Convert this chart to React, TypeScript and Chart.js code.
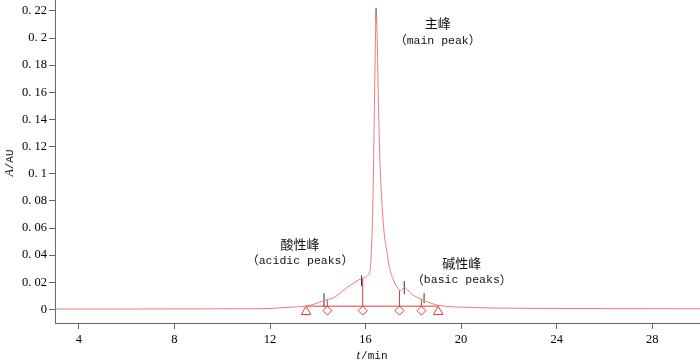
import { useEffect, useRef } from "react";
import { Chart, registerables } from "chart.js";

Chart.register(...registerables);

// Chromatogram trace (retention time in min, absorbance in AU)
const curveTimes = [
  3, 6, 9, 11, 12, 12.42, 13.05, 13.5, 13.87, 14.2, 14.37, 14.7, 15.21, 15.56, 15.84, 15.98, 16.09,
  16.16, 16.22, 16.28, 16.33, 16.38, 16.42, 16.45, 16.48, 16.53, 16.6, 16.68, 16.77, 16.88, 17.0,
  17.17, 17.38, 17.46, 17.55, 17.63, 17.75, 17.95, 18.15, 18.4, 18.5, 18.75, 19.0, 19.3, 19.7, 20.5,
  21.5, 23, 26, 30,
];
const curveValues = [
  0.0003, 0.0003, 0.0004, 0.0005, 0.0007, 0.0012, 0.0018, 0.0025, 0.004, 0.0062, 0.007, 0.009, 0.016,
  0.02, 0.0229, 0.0234, 0.025, 0.0268, 0.035, 0.06, 0.1, 0.16, 0.205, 0.218, 0.205, 0.16, 0.11, 0.08,
  0.058, 0.044, 0.031, 0.0216, 0.0148, 0.0137, 0.015, 0.0162, 0.0145, 0.011, 0.009, 0.007, 0.0062,
  0.0045, 0.0032, 0.0024, 0.0019, 0.0014, 0.001, 0.0008, 0.0006, 0.0005,
];

// Integration baseline and markers
const baselineTimes = [13.51, 19.04];
const baselineValues = [0.0024, 0.0024];
const triangleTimes = [13.51, 19.04];
const triangleValues = [-0.0017, -0.0017];
const diamondTimes = [14.4, 15.88, 17.42, 18.34];
const diamondValues = [-0.0009, -0.0009, -0.0009, -0.0009];
const dropTimes = [14.4, 15.88, 17.42, 18.34];
const dropBottoms = [0.0024, 0.0024, 0.0024, 0.0024];
const dropTops = [0.0071, 0.023, 0.0142, 0.0074];
const apexTimes = [14.26, 15.83, 16.44, 17.62, 18.45];
const apexLows = [0.0017, 0.0172, 0.212, 0.0113, 0.0046];
const apexHighs = [0.012, 0.025, 0.222, 0.0209, 0.012];

// Axes
const xTickValues = [4, 8, 12, 16, 20, 24, 28];
const xTickLabels = ["4", "8", "12", "16", "20", "24", "28"];
const yTickValues = [0, 0.02, 0.04, 0.06, 0.08, 0.1, 0.12, 0.14, 0.16, 0.18, 0.2, 0.22];
const yTickLabels = ["0", "0. 02", "0. 04", "0. 06", "0. 08", "0. 1", "0. 12", "0. 14", "0. 16", "0. 18", "0. 2", "0. 22"];

// Peak annotations
const annotationTitles = ["主峰", "酸性峰", "碱性峰"];
const annotationSubtitles = ["main peak", "acidic peaks", "basic peaks"];
const annotationTimes = [19.02, 13.26, 20.03];
const annotationTitleValues = [0.211, 0.0482, 0.0339];
const annotationSubValues = [0.198, 0.0358, 0.0216];

const AXIS_COLOR = "#666666";
const CURVE_COLOR = "#f07878";
const MARK_RED = "#e23b3b";

const CJK_FONT = "13px 'Noto Sans CJK SC'";
const PAREN_FONT = "12px 'Noto Sans CJK SC'";
const MONO_FONT = "11.5px 'Liberation Mono'";

function drawSubtitle(ctx: CanvasRenderingContext2D, text: string, cx: number, cy: number) {
  const parts = [
    { s: "（", f: PAREN_FONT },
    { s: text, f: MONO_FONT },
    { s: "）", f: PAREN_FONT },
  ];
  let total = 0;
  const widths = parts.map((p) => {
    ctx.font = p.f;
    const w = ctx.measureText(p.s).width;
    total += w;
    return w;
  });
  let x = cx - total / 2;
  ctx.textAlign = "left";
  parts.forEach((p, i) => {
    ctx.font = p.f;
    ctx.fillText(p.s, x, cy);
    x += widths[i];
  });
}

const textPlugin = {
  id: "peakTexts",
  afterDatasetsDraw(chart: any) {
    const { ctx, scales, chartArea } = chart;
    const xs = scales.x;
    const ys = scales.y;
    ctx.save();
    ctx.fillStyle = "#111111";
    ctx.textBaseline = "middle";
    for (let i = 0; i < annotationTitles.length; i++) {
      const px = xs.getPixelForValue(annotationTimes[i]);
      ctx.textAlign = "center";
      ctx.font = CJK_FONT;
      ctx.fillText(annotationTitles[i], px, ys.getPixelForValue(annotationTitleValues[i]));
      drawSubtitle(ctx, annotationSubtitles[i], px, ys.getPixelForValue(annotationSubValues[i]));
    }
    // x axis title: t/min
    ctx.textAlign = "left";
    const cx = (chartArea.left + chartArea.right) / 2 - 6;
    const ty = chartArea.bottom + 33;
    ctx.font = "italic 13px 'Liberation Serif'";
    const tW = ctx.measureText("t").width;
    ctx.font = "11px 'Liberation Mono'";
    const mW = ctx.measureText("/min").width;
    const sx = cx - (tW + mW) / 2;
    ctx.font = "italic 13px 'Liberation Serif'";
    ctx.fillText("t", sx, ty);
    ctx.font = "11px 'Liberation Mono'";
    ctx.fillText("/min", sx + tW + 1, ty);
    // y axis title: A/AU
    ctx.save();
    ctx.translate(10, (chartArea.top + chartArea.bottom) / 2 + 1.5);
    ctx.rotate(-Math.PI / 2);
    ctx.font = "italic 12px 'Liberation Serif'";
    const aW = ctx.measureText("A").width;
    ctx.font = "11px 'Liberation Mono'";
    const rW = ctx.measureText("/AU").width;
    const ax = -(aW + rW) / 2;
    ctx.font = "italic 12px 'Liberation Serif'";
    ctx.fillText("A", ax, 0);
    ctx.font = "11px 'Liberation Mono'";
    ctx.fillText("/AU", ax + aW, 0);
    ctx.restore();
    ctx.restore();
  },
};

function segments(times: number[], lows: number[], highs: number[]) {
  const pts: { x: number; y: number | null }[] = [];
  times.forEach((t, i) => {
    pts.push({ x: t, y: lows[i] });
    pts.push({ x: t, y: highs[i] });
    pts.push({ x: t, y: null });
  });
  return pts;
}

export default function App() {
  const ref = useRef<HTMLCanvasElement | null>(null);
  useEffect(() => {
    if (!ref.current) return;
    const chart = new Chart(ref.current, {
      type: "line",
      data: {
        datasets: [
          {
            data: curveTimes.map((t, i) => ({ x: t, y: curveValues[i] })),
            borderColor: CURVE_COLOR,
            borderWidth: 1,
            pointRadius: 0,
            cubicInterpolationMode: "monotone",
          },
          {
            data: baselineTimes.map((t, i) => ({ x: t, y: baselineValues[i] })),
            borderColor: MARK_RED,
            borderWidth: 1,
            pointRadius: 0,
          },
          {
            data: segments(dropTimes, dropBottoms, dropTops),
            borderColor: MARK_RED,
            borderWidth: 1,
            pointRadius: 0,
            spanGaps: false,
          },
          {
            data: segments(apexTimes, apexLows, apexHighs),
            borderColor: "#333333",
            borderWidth: 1,
            pointRadius: 0,
            spanGaps: false,
          },
          {
            data: diamondTimes.map((t, i) => ({ x: t, y: diamondValues[i] })),
            showLine: false,
            pointStyle: "rectRot",
            pointRadius: 4.5,
            pointBorderColor: MARK_RED,
            pointBackgroundColor: "rgba(255,255,255,1)",
            pointBorderWidth: 1,
          },
          {
            data: triangleTimes.map((t, i) => ({ x: t, y: triangleValues[i] })),
            showLine: false,
            pointStyle: "triangle",
            pointRadius: 5.5,
            pointBorderColor: MARK_RED,
            pointBackgroundColor: "rgba(255,255,255,1)",
            pointBorderWidth: 1,
          },
        ],
      },
      options: {
        animation: false,
        responsive: false,
        maintainAspectRatio: false,
        layout: { padding: 0, autoPadding: false },
        plugins: { legend: { display: false }, tooltip: { enabled: false } },
        scales: {
          x: {
            type: "linear",
            min: 3,
            max: 30,
            afterBuildTicks: (s: any) => {
              s.ticks = xTickValues.map((v) => ({ value: v }));
            },
            afterFit: (s: any) => {
              s.height = 39;
              s.paddingLeft = 0;
              s.paddingRight = 0;
            },
            ticks: {
              autoSkip: false,
              maxRotation: 0,
              padding: 3,
              color: "#000000",
              font: { family: "'Liberation Serif'", size: 12.5 },
              callback: (v: any) => {
                const i = xTickValues.indexOf(Number(v));
                return i >= 0 ? xTickLabels[i] : "";
              },
            },
            grid: { drawOnChartArea: false, drawTicks: true, tickLength: 6, color: AXIS_COLOR },
            border: { display: true, color: AXIS_COLOR, width: 1 },
          },
          y: {
            type: "linear",
            min: -0.01,
            max: 0.228,
            afterBuildTicks: (s: any) => {
              s.ticks = yTickValues.map((v) => ({ value: v }));
            },
            afterFit: (s: any) => {
              s.width = 55;
              s.paddingTop = 0;
              s.paddingBottom = 0;
            },
            ticks: {
              autoSkip: false,
              padding: 2,
              color: "#000000",
              font: { family: "'Liberation Serif'", size: 12.5 },
              callback: (v: any) => {
                const i = yTickValues.findIndex((t) => Math.abs(t - Number(v)) < 1e-9);
                return i >= 0 ? yTickLabels[i] : "";
              },
            },
            grid: { drawOnChartArea: false, drawTicks: true, tickLength: 6, color: AXIS_COLOR },
            border: { display: true, color: AXIS_COLOR, width: 1 },
          },
        },
      },
      plugins: [textPlugin],
    });
    return () => chart.destroy();
  }, []);
  return (
    <div style={{ position: "fixed", left: 0, top: 0, width: 700, height: 362, background: "#fff" }}>
      <canvas ref={ref} width={700} height={362} style={{ width: 700, height: 362 }} />
    </div>
  );
}
